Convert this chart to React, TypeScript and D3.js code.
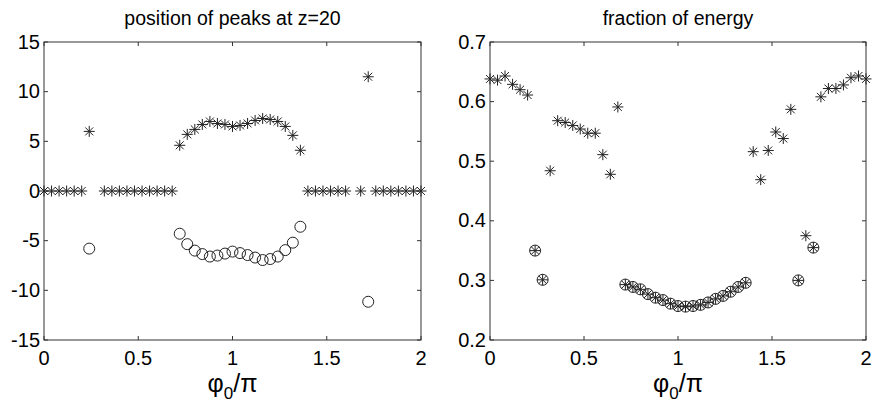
import React, { useEffect, useRef } from "react";
import * as d3 from "d3";

const phi = [0, 0.04, 0.08, 0.12, 0.16, 0.2, 0.24, 0.28, 0.32, 0.36, 0.4, 0.44, 0.48, 0.52, 0.56, 0.6, 0.64, 0.68,
  0.72, 0.76, 0.8, 0.84, 0.88, 0.92, 0.96, 1.0, 1.04, 1.08, 1.12, 1.16, 1.2, 1.24, 1.28, 1.32, 1.36,
  1.4, 1.44, 1.48, 1.52, 1.56, 1.6, 1.64, 1.68, 1.72, 1.76, 1.8, 1.84, 1.88, 1.92, 1.96, 2.0];

const peakStars: (number | null)[] = [0, 0, 0, 0, 0, 0, 6.0, null, 0, 0, 0, 0, 0, 0, 0, 0, 0, 0,
  4.6, 5.7, 6.2, 6.7, 7.0, 6.8, 6.7, 6.5, 6.6, 6.8, 7.1, 7.3, 7.2, 7.0, 6.5, 5.6, 4.1,
  0, 0, 0, 0, 0, 0, null, 0, 11.5, 0, 0, 0, 0, 0, 0, 0];

const peakCircles: (number | null)[] = [null, null, null, null, null, null, -5.8, null, null, null, null, null, null, null, null, null, null, null,
  -4.3, -5.35, -6.0, -6.35, -6.6, -6.5, -6.3, -6.1, -6.25, -6.45, -6.7, -6.95, -6.85, -6.6, -5.95, -5.2, -3.6,
  null, null, null, null, null, null, null, null, -11.15, null, null, null, null, null, null, null];

const energyStars: (number | null)[] = [0.638, 0.636, 0.643, 0.629, 0.62, 0.611, 0.35, 0.301, 0.484, 0.568, 0.565, 0.56, 0.554, 0.547, 0.547, 0.511, 0.478, 0.591,
  0.293, 0.289, 0.285, 0.277, 0.271, 0.267, 0.261, 0.257, 0.256, 0.257, 0.259, 0.263, 0.269, 0.274, 0.281, 0.289, 0.296,
  0.516, 0.469, 0.518, 0.549, 0.538, 0.587, 0.3, 0.375, 0.355, 0.608, 0.622, 0.622, 0.628, 0.64, 0.643, 0.638];

const energyCircles: (number | null)[] = [null, null, null, null, null, null, 0.35, 0.301, null, null, null, null, null, null, null, null, null, null,
  0.293, 0.289, 0.285, 0.277, 0.271, 0.267, 0.261, 0.257, 0.256, 0.257, 0.259, 0.263, 0.269, 0.274, 0.281, 0.289, 0.296,
  null, null, null, null, null, null, 0.3, null, 0.355, null, null, null, null, null, null, null];

const xTicks = [0, 0.5, 1, 1.5, 2];
const xTickLabels = ["0", "0.5", "1", "1.5", "2"];
const peakTicks = [-15, -10, -5, 0, 5, 10, 15];
const peakTickLabels = ["-15", "-10", "-5", "0", "5", "10", "15"];
const energyTicks = [0.2, 0.3, 0.4, 0.5, 0.6, 0.7];
const energyTickLabels = ["0.2", "0.3", "0.4", "0.5", "0.6", "0.7"];

const titles = ["position of peaks at z=20", "fraction of energy"];

const FONT = "'Liberation Sans', Arial, Helvetica, sans-serif";

function drawPanel(
  g: d3.Selection<SVGGElement, unknown, null, undefined>,
  left: number, right: number, top: number, bottom: number,
  yDomain: [number, number], yTicks: number[], yLabels: string[],
  stars: (number | null)[], circles: (number | null)[], title: string
) {
  const x = d3.scaleLinear().domain([0, 2]).range([left, right]);
  const y = d3.scaleLinear().domain(yDomain).range([bottom, top]);
  const tl = 4;
  const axisColor = "#333";

  g.append("rect").attr("x", left).attr("y", top).attr("width", right - left).attr("height", bottom - top)
    .attr("fill", "none").attr("stroke", axisColor).attr("stroke-width", 1);

  xTicks.forEach((t, i) => {
    const px = x(t);
    g.append("line").attr("x1", px).attr("x2", px).attr("y1", bottom).attr("y2", bottom - tl).attr("stroke", axisColor);
    g.append("line").attr("x1", px).attr("x2", px).attr("y1", top).attr("y2", top + tl).attr("stroke", axisColor);
    g.append("text").attr("x", px).attr("y", bottom + 25).attr("text-anchor", "middle")
      .attr("font-family", FONT).attr("font-size", 20).attr("fill", "#000").text(xTickLabels[i]);
  });
  yTicks.forEach((t, i) => {
    const py = y(t);
    g.append("line").attr("x1", left).attr("x2", left + tl).attr("y1", py).attr("y2", py).attr("stroke", axisColor);
    g.append("line").attr("x1", right).attr("x2", right - tl).attr("y1", py).attr("y2", py).attr("stroke", axisColor);
    g.append("text").attr("x", left - 4).attr("y", py + 6.5).attr("text-anchor", "end")
      .attr("font-family", FONT).attr("font-size", 20).attr("fill", "#000").text(yLabels[i]);
  });

  g.append("text").attr("x", (left + right) / 2).attr("y", 25).attr("text-anchor", "middle")
    .attr("font-family", FONT).attr("font-size", 19.5).attr("fill", "#000").text(title);

  const xl = g.append("text").attr("x", (left + right) / 2).attr("y", 392).attr("text-anchor", "middle")
    .attr("font-family", FONT).attr("font-size", 25).attr("fill", "#000");
  xl.append("tspan").text("\u03c6");
  xl.append("tspan").attr("font-size", 17).attr("dy", 7).text("0");
  xl.append("tspan").attr("dy", -7).text("/\u03c0");

  circles.forEach((v, i) => {
    if (v === null) return;
    g.append("circle").attr("cx", x(phi[i])).attr("cy", y(v)).attr("r", 5.5)
      .attr("fill", "none").attr("stroke", "#222").attr("stroke-width", 1);
  });
  const s = 5.5;
  const d = s * 0.72;
  stars.forEach((v, i) => {
    if (v === null) return;
    const cx = x(phi[i]);
    const cy = y(v);
    const path = d3.path();
    path.moveTo(cx - s, cy); path.lineTo(cx + s, cy);
    path.moveTo(cx, cy - s); path.lineTo(cx, cy + s);
    path.moveTo(cx - d, cy - d); path.lineTo(cx + d, cy + d);
    path.moveTo(cx - d, cy + d); path.lineTo(cx + d, cy - d);
    g.append("path").attr("d", path.toString()).attr("fill", "none").attr("stroke", "#222").attr("stroke-width", 1);
  });
}

export default function App() {
  const ref = useRef<SVGSVGElement>(null);
  useEffect(() => {
    const svg = d3.select(ref.current!);
    svg.selectAll("*").remove();
    svg.append("rect").attr("width", 872).attr("height", 402).attr("fill", "#fff");
    const g1 = svg.append("g");
    drawPanel(g1, 44, 421, 42, 340, [-15, 15], peakTicks, peakTickLabels, peakStars, peakCircles, titles[0]);
    const g2 = svg.append("g");
    drawPanel(g2, 490, 866, 42, 340, [0.2, 0.7], energyTicks, energyTickLabels, energyStars, energyCircles, titles[1]);
  }, []);
  return (
    <svg ref={ref} width={872} height={402} style={{ position: "absolute", left: 0, top: 0 }} />
  );
}
